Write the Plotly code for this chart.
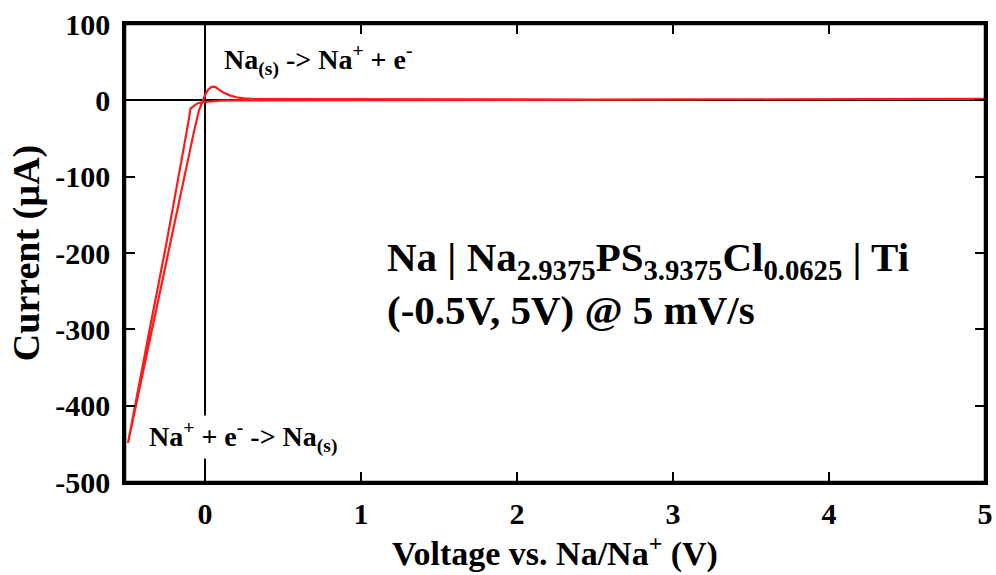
import plotly.graph_objects as go

# Anodic sweep (from -0.5 V up to 5 V)
v_up = [-0.494, -0.40, -0.30, -0.20, -0.12, -0.07, -0.04, -0.02, 0.00, 0.02, 0.04, 0.055,
        0.07, 0.09, 0.12, 0.16, 0.20, 0.25, 0.30, 0.40, 0.7, 1.0, 1.5, 2.0, 2.5, 3.0, 3.5, 4.0, 4.5, 5.0]
i_up = [-449, -358, -261, -164, -86, -40, -14, -2, 7, 14, 17.5, 18,
        17, 14, 10, 6.5, 4, 2.5, 1.8, 1.5, 1.3, 1.2, 1.1, 1.0, 1.1, 1.3, 1.4, 1.5, 1.7, 1.8]

# Cathodic sweep (from 5 V back to -0.5 V)
v_down = [5.0, 4.5, 4.0, 3.0, 2.0, 1.0, 0.40, 0.20, 0.10, 0.03, -0.02, -0.05, -0.07, -0.092,
          -0.095, -0.10, -0.13, -0.171, -0.25, -0.35, -0.43, -0.494]
i_down = [1.8, 1.2, 0.9, 0.6, 0.4, 0.3, 0.3, 0.0, -0.5, -1.5, -2.5, -4, -7, -10.5,
          -13, -20, -55, -103, -190, -295, -383, -449]

x_ticks = [0, 1, 2, 3, 4, 5]
x_labels = ["0", "1", "2", "3", "4", "5"]
y_ticks = [100, 0, -100, -200, -300, -400, -500]
y_labels = ["100", "0", "-100", "-200", "-300", "-400", "-500"]

FONT = "Liberation Serif"

fig = go.Figure()
fig.add_trace(go.Scatter(x=v_up + v_down, y=i_up + i_down, mode="lines",
                         line=dict(color="#ff1a1a", width=2.2), showlegend=False))

axis_common = dict(
    showline=True, linecolor="black", linewidth=2.5, mirror="ticks",
    ticks="inside", ticklen=10, tickwidth=2, tickcolor="black",
    showgrid=False, zeroline=True, zerolinecolor="black", zerolinewidth=2,
    automargin=False,
    tickfont=dict(family=FONT, size=30, color="black", weight="bold"),
)

fig.update_xaxes(range=[-0.513, 5], tickvals=x_ticks, ticktext=x_labels, ticklabelstandoff=3,
                 title=dict(text="Voltage vs. Na/Na<sup>+</sup> (V)", standoff=6,
                            font=dict(family=FONT, size=34, color="black", weight="bold")),
                 **axis_common)
fig.update_yaxes(range=[-500, 100], tickvals=y_ticks, ticktext=y_labels, ticklabelstandoff=6,
                 title=dict(text="Current (µA)", standoff=4,
                            font=dict(family=FONT, size=38, color="black", weight="bold")),
                 **axis_common)

# Plot frame
fig.add_shape(type="rect", xref="paper", yref="paper", x0=0, y0=0, x1=1, y1=1,
              line=dict(color="black", width=2.5), layer="above")

fig.add_annotation(x=0.11, y=53, xref="x", yref="y", xanchor="left", yanchor="middle",
                   text="Na<sub>(s)</sub> -> Na<sup>+</sup> + e<sup>-</sup>", showarrow=False,
                   font=dict(family=FONT, size=28, color="black", weight="bold"))
fig.add_annotation(x=-0.372, y=-441, xref="x", yref="y", xanchor="left", yanchor="middle",
                   text="Na<sup>+</sup> + e<sup>-</sup> -> Na<sub>(s)</sub>", showarrow=False,
                   bgcolor="white", borderpad=1,
                   font=dict(family=FONT, size=28, color="black", weight="bold"))
fig.add_annotation(x=1.155, y=-240, xref="x", yref="y", xanchor="left", yanchor="middle",
                   align="left", showarrow=False,
                   text="Na | Na<sub>2.9375</sub>PS<sub>3.9375</sub>Cl<sub>0.0625</sub> | Ti<br>(-0.5V, 5V) @ 5 mV/s",
                   font=dict(family=FONT, size=41, color="black", weight="bold"))

fig.update_layout(
    width=996, height=575,
    margin=dict(l=125, r=11, t=24, b=93),
    paper_bgcolor="white", plot_bgcolor="white",
)

# Remove the default page margin so the figure fills the window exactly.
fig.write_html("out.html", config={"displayModeBar": False},
               post_script="document.body.style.margin='0px';")
